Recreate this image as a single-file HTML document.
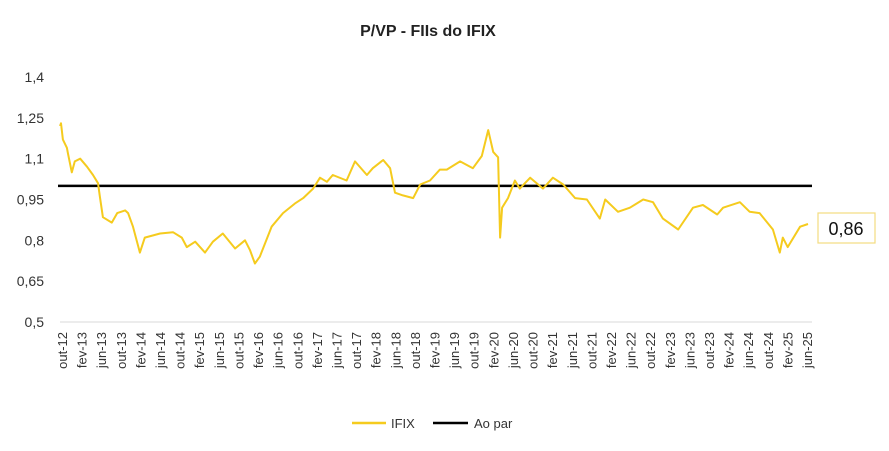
<!DOCTYPE html>
<html><head><meta charset="utf-8">
<style>
body{margin:0;background:#fff;font-family:"Liberation Sans",sans-serif;}
svg text{font-family:"Liberation Sans",sans-serif;}
</style></head>
<body>
<svg width="889" height="446" viewBox="0 0 889 446">
<text x="428" y="36" text-anchor="middle" font-size="16" font-weight="bold" fill="#222">P/VP - FIIs do IFIX</text>
<g id="yaxis"></g>
<g id="xaxis"></g>
<g id="series"></g>
<g>
<rect x="818" y="213" width="57" height="30" fill="#fff" stroke="#f3dc80" stroke-width="1.2"/>
<text x="846" y="235" text-anchor="middle" font-size="18" fill="#111">0,86</text>
</g>
<g>
<g>
<line x1="352" y1="423" x2="386" y2="423" stroke="#f5cb1e" stroke-width="2.5"/>
<text x="391" y="428" font-size="13" fill="#333">IFIX</text></g>
<g>
<line x1="433" y1="423" x2="468" y2="423" stroke="#000" stroke-width="2.5"/>
<text x="474" y="428" font-size="13" fill="#333">Ao par</text></g>
</g>
</svg>
<script>
const months=[0.4,0.6,1.0,1.8,2.0,2.8,3.4,4.5,5.9,7.1,8.1,8.5,9.1,10.9,12.0,13.6,14.2,15.2,16.6,17.6,20.7,23.3,25.1,26.1,27.8,29.8,31.4,33.4,35.9,37.9,38.9,39.9,40.9,43.3,45.6,48.0,49.7,51.7,53.1,54.5,55.7,58.5,60.2,62.6,63.8,65.9,67.3,68.3,69.9,72.0,73.4,75.4,77.4,78.8,81.5,84.1,85.9,87.2,88.2,89.2,89.6,90.0,91.2,92.6,93.6,95.7,98.3,100.3,102.4,104.8,107.2,109.8,110.9,113.5,115.9,118.6,120.6,122.6,125.7,128.7,130.7,133.6,134.8,138.2,140.2,142.2,144.9,146.3,146.9,147.9,150.4,152.0];
const ifix=[1.22,1.23,1.17,1.14,1.12,1.05,1.09,1.10,1.07,1.04,1.01,0.96,0.885,0.865,0.90,0.91,0.90,0.85,0.755,0.81,0.825,0.83,0.81,0.775,0.795,0.755,0.795,0.825,0.77,0.80,0.765,0.715,0.74,0.85,0.90,0.935,0.955,0.99,1.03,1.015,1.04,1.02,1.09,1.04,1.065,1.095,1.065,0.975,0.965,0.955,1.005,1.02,1.06,1.06,1.09,1.065,1.11,1.205,1.125,1.105,0.81,0.92,0.955,1.02,0.99,1.03,0.99,1.03,1.005,0.955,0.95,0.88,0.95,0.905,0.92,0.95,0.94,0.88,0.84,0.92,0.93,0.895,0.92,0.94,0.905,0.90,0.84,0.755,0.81,0.775,0.85,0.86];
const parValue=[1.0,1.0];
const yTicks=[0.5,0.65,0.8,0.95,1.1,1.25,1.4];
const yTickLabels=["0,5","0,65","0,8","0,95","1,1","1,25","1,4"];
const xTickLabels=["out-12","fev-13","jun-13","out-13","fev-14","jun-14","out-14","fev-15","jun-15","out-15","fev-16","jun-16","out-16","fev-17","jun-17","out-17","fev-18","jun-18","out-18","fev-19","jun-19","out-19","fev-20","jun-20","out-20","fev-21","jun-21","out-21","fev-22","jun-22","out-22","fev-23","jun-23","out-23","fev-24","jun-24","out-24","fev-25","jun-25"];
const NS="http://www.w3.org/2000/svg";
const xS=m=>58+m*4.934;
const yS=v=>322-(v-0.5)/0.15*40.83;
function mk(t,a,p){const e=document.createElementNS(NS,t);for(const k in a)e.setAttribute(k,a[k]);p.appendChild(e);return e;}
const ya=document.getElementById('yaxis'),xa=document.getElementById('xaxis'),se=document.getElementById('series');
yTicks.forEach((v,i)=>{const t=mk('text',{x:44,y:yS(v)+5,'text-anchor':'end','font-size':'14',fill:'#333'},ya);t.textContent=yTickLabels[i];

});
const base=mk('line',{x1:60,x2:812,y1:yS(0.5),y2:yS(0.5),stroke:'#d9d9d9','stroke-width':1},xa);


xTickLabels.forEach((l,i)=>{const x=xS(i*4)+4-i*0.13;const t=mk('text',{x:0,y:0,'text-anchor':'end','font-size':'13',fill:'#333',transform:`translate(${x+5},332) rotate(-90)`},xa);t.textContent=l;

});
const par=mk('line',{x1:xS(0),x2:812,y1:yS(parValue[0]),y2:yS(parValue[1]),stroke:'#000','stroke-width':2.5},se);


const d=months.map((m,i)=>(i?'L':'M')+xS(m).toFixed(1)+','+yS(ifix[i]).toFixed(1)).join(' ');
const p=mk('path',{d:d,fill:'none',stroke:'#f5cb1e','stroke-width':2,'stroke-linejoin':'round'},se);


</script>
</body></html>
